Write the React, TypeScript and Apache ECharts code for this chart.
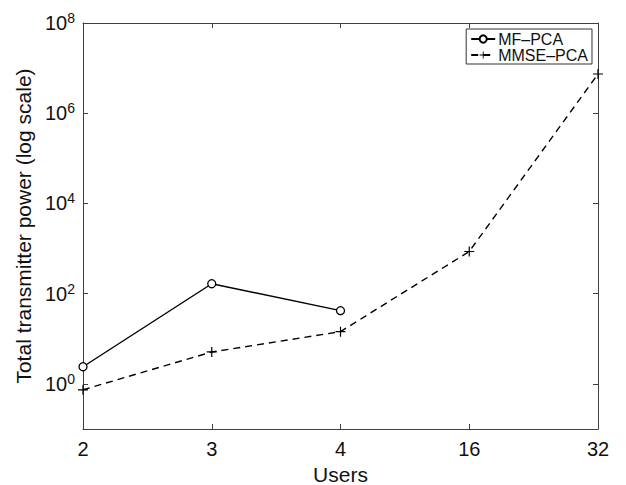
import React, { useEffect, useRef } from "react";
import * as echarts from "echarts";

const users = ["2", "3", "4", "16", "32"];
const mfPca = [2.4, 166, 42, null, null];
const mmsePca = [0.74, 5.1, 14.4, 860, 7.4e6];
const yTickValues = [1, 100, 10000, 1e6, 1e8];

const FONT = "Liberation Sans";
const AX = "#404040";

export default function App() {
  const ref = useRef<HTMLDivElement>(null);
  useEffect(() => {
    if (!ref.current) return;
    const chart = echarts.init(ref.current, null, { renderer: "svg" });
    const plus =
      "path://M-0.6,-5H0.6V-0.6H5V0.6H0.6V5H-0.6V0.6H-5V-0.6H-0.6Z";
    const yLabel = (v: number) => {
      const e = Math.round(Math.log10(v));
      return `{b|10}{s|${e}}`;
    };
    const common = {
      type: "log" as const,
      logBase: 10,
      min: 0.1,
      max: 1e8,
      splitLine: { show: false },
      axisLine: { show: true, lineStyle: { color: AX, width: 1 } },
      axisTick: {
        show: true,
        inside: true,
        length: 5,
        customValues: yTickValues,
        lineStyle: { color: AX },
      },
    };
    chart.setOption({
      animation: false,
      backgroundColor: "#fff",
      textStyle: { fontFamily: FONT },
      grid: {
        left: 83,
        right: 28,
        top: 23,
        bottom: 56,
        containLabel: false,
        outerBoundsMode: "none",
      },
      legend: {
        orient: "vertical",
        right: 34,
        top: 29,
        padding: [2, 4, 1, 4],
        itemGap: 0,
        itemWidth: 24,
        itemHeight: 9,
        backgroundColor: "#fff",
        borderColor: "#333",
        borderWidth: 1,
        borderRadius: 0,
        textStyle: { fontSize: 16, color: "#111", fontFamily: FONT, lineHeight: 15, padding: [0, 0, 0, -2] },
        data: ["MF–PCA", "MMSE–PCA"],
      },
      xAxis: [
        {
          type: "category",
          data: users,
          boundaryGap: false,
          name: "Users",
          nameLocation: "middle",
          nameGap: 33,
          nameTextStyle: { fontSize: 21, lineHeight: 21, color: "#111", fontFamily: FONT },
          axisLine: { lineStyle: { color: AX } },
          axisTick: { inside: true, length: 5, alignWithLabel: true, lineStyle: { color: AX } },
          axisLabel: { fontSize: 20, color: "#111", margin: 10, fontFamily: FONT },
          splitLine: { show: false },
        },
        {
          type: "category",
          data: users,
          boundaryGap: false,
          position: "top",
          axisLine: { lineStyle: { color: AX } },
          axisTick: { inside: true, length: 5, alignWithLabel: true, lineStyle: { color: AX } },
          axisLabel: { show: false },
          splitLine: { show: false },
        },
      ],
      yAxis: [
        {
          ...common,
          position: "left",
          name: "Total transmitter power (log scale)",
          nameLocation: "middle",
          nameGap: 48,
          nameTextStyle: { fontSize: 21, color: "#111", fontFamily: FONT },
          axisLabel: {
            show: true,
            customValues: yTickValues,
            formatter: yLabel,
            margin: 8,
            rich: {
              b: { fontSize: 20, color: "#111", fontFamily: FONT },
              s: { fontSize: 14, color: "#111", fontFamily: FONT, padding: [0, 0, 10, 0] },
            },
          },
        },
        {
          ...common,
          position: "right",
          axisLabel: { show: false },
        },
      ],
      series: [
        {
          name: "MF–PCA",
          type: "line",
          data: mfPca,
          symbol: "circle",
          symbolSize: 8,
          showSymbol: true,
          lineStyle: { color: "#000", width: 1.4, type: "solid" },
          itemStyle: { color: "#fff", borderColor: "#000", borderWidth: 1.3 },
          connectNulls: false,
        },
        {
          name: "MMSE–PCA",
          type: "line",
          data: mmsePca,
          symbol: plus,
          symbolSize: 10,
          lineStyle: { color: "#000", width: 1.4, type: [7, 5] },
          itemStyle: { color: "#000", borderWidth: 0 },
        },
      ],
    });
    return () => chart.dispose();
  }, []);
  return (
    <div
      ref={ref}
      style={{ position: "absolute", left: 0, top: 0, width: 626, height: 485 }}
    />
  );
}
